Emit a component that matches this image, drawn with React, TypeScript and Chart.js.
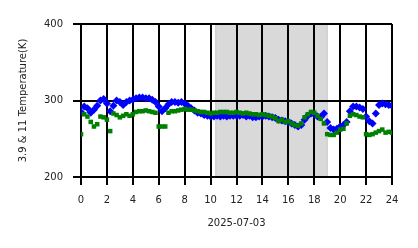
import React, { useEffect, useRef } from "react";
import { Chart, registerables } from "chart.js";

Chart.register(...registerables);

const hours: number[] = [
  0, 0.25, 0.5, 0.75, 1, 1.25, 1.5, 1.75, 2, 2.25, 2.5, 2.75, 3, 3.25, 3.5, 3.75,
  4, 4.25, 4.5, 4.75, 5, 5.25, 5.5, 5.75, 6, 6.25, 6.5, 6.75, 7, 7.25, 7.5, 7.75,
  8, 8.25, 8.5, 8.75, 9, 9.25, 9.5, 9.75, 10, 10.25, 10.5, 10.75, 11, 11.25, 11.5, 11.75,
  12, 12.25, 12.5, 12.75, 13, 13.25, 13.5, 13.75, 14, 14.25, 14.5, 14.75, 15, 15.25, 15.5, 15.75,
  16, 16.25, 16.5, 16.75, 17, 17.25, 17.5, 17.75, 18, 18.25, 18.5, 18.75, 19, 19.25, 19.5, 19.75,
  20, 20.25, 20.5, 20.75, 21, 21.25, 21.5, 21.75, 22, 22.25, 22.5, 22.75, 23, 23.25, 23.5, 23.75, 24,
];

const temp39: number[] = [
  285, 292, 290, 284, 288, 293, 300, 302, 296, 286, 293, 300, 298, 294, 298, 300,
  301, 303, 304, 304, 303, 303, 301, 298, 292, 286, 290, 295, 298, 298, 297, 298,
  296, 293, 290, 287, 284, 283, 281, 280, 279, 279, 280, 279, 280, 279, 280, 280,
  280, 280, 281, 279, 280, 278, 278, 279, 279, 280, 279, 278, 277, 275, 274, 273,
  272, 270, 268, 266, 268, 275, 280, 283, 282, 279, 278, 283, 272, 264, 262, 263,
  266, 268, 272, 286, 292, 292, 291, 289, 279, 273, 270, 283, 294, 296, 295, 294, 293,
];

const temp11: number[] = [
  256, 282, 279, 272, 266, 269, 279, 278, 275, 260, 283, 281, 278, 280, 282, 280,
  282, 285, 286, 286, 287, 286, 285, 284, 266, 266, 266, 284, 286, 286, 287, 288,
  289, 288, 288, 287, 286, 285, 285, 284, 283, 284, 284, 285, 285, 285, 284, 284,
  285, 284, 283, 284, 283, 282, 282, 281, 282, 281, 280, 279, 277, 273, 275, 272,
  273, 270, 268, 267, 270, 278, 282, 285, 284, 280, 276, 270, 256, 255, 255, 258,
  262, 263, 270, 280, 282, 281, 279, 278, 256, 255, 256, 258, 260, 262, 258, 259, 258,
];

const shadeStart = 10.4;
const shadeEnd = 19.0;
const xTicks: number[] = [0, 2, 4, 6, 8, 10, 12, 14, 16, 18, 20, 22, 24];
const yTicks: number[] = [200, 300, 400];
const dateLabel = "2025-07-03";
const yTitle = "3.9 & 11 Temperature(K)";

const FONT = "'DejaVu Sans', sans-serif";

export default function App() {
  const ref = useRef<HTMLCanvasElement | null>(null);

  useEffect(() => {
    document.body.style.margin = "0";
    const canvas = ref.current;
    if (!canvas) return;

    const shadePlugin = {
      id: "shade",
      beforeDraw(chart: any) {
        const { ctx, chartArea, scales } = chart;
        const x0 = scales.x.getPixelForValue(shadeStart);
        const x1 = scales.x.getPixelForValue(shadeEnd);
        ctx.save();
        ctx.fillStyle = "#d9d9d9";
        ctx.fillRect(x0, chartArea.top, x1 - x0, chartArea.bottom - chartArea.top);
        ctx.strokeStyle = "#c4c4c4";
        ctx.lineWidth = 1;
        ctx.strokeRect(x0, chartArea.top, x1 - x0, chartArea.bottom - chartArea.top);
        ctx.restore();
      },
    };

    const toPts = (ys: number[]) => ys.map((y, i) => ({ x: hours[i], y }));

    const chart = new Chart(canvas, {
      type: "scatter",
      data: {
        datasets: [
          {
            label: "11",
            data: toPts(temp11),
            pointStyle: "rect",
            pointRadius: 3.2,
            backgroundColor: "#008000",
            borderWidth: 0,
          },
          {
            label: "3.9",
            data: toPts(temp39),
            pointStyle: "rectRot",
            pointRadius: 4,
            backgroundColor: "#0000ff",
            borderWidth: 0,
          },
        ],
      },
      options: {
        animation: false,
        responsive: true,
        maintainAspectRatio: false,
        layout: { padding: { top: 24, right: 26, left: 0, bottom: 0 } },
        plugins: {
          legend: { display: false },
          tooltip: { enabled: false },
        },
        scales: {
          x: {
            type: "linear",
            min: 0,
            max: 24,
            afterBuildTicks: (s: any) => {
              s.ticks = xTicks.map((v) => ({ value: v }));
            },
            afterFit: (s: any) => {
              s.height = 71;
            },
            grid: {
              color: "#000",
              lineWidth: 2,
              tickLength: 8,
              tickColor: "#000",
              drawTicks: true,
            },
            border: { display: false },
            ticks: {
              color: "#222",
              font: { family: FONT, size: 10 },
              padding: 9,
              maxRotation: 0,
              autoSkip: false,
            },
            title: {
              display: true,
              text: dateLabel,
              color: "#222",
              font: { family: FONT, size: 10 },
              padding: { top: 0, bottom: 19 },
            },
          },
          y: {
            type: "linear",
            min: 200,
            max: 400,
            afterBuildTicks: (s: any) => {
              s.ticks = yTicks.map((v) => ({ value: v }));
            },
            afterFit: (s: any) => {
              s.width = 81;
            },
            grid: {
              color: "#000",
              lineWidth: 2,
              tickLength: 8,
              tickColor: "#000",
              drawTicks: true,
            },
            border: { display: false },
            ticks: {
              color: "#222",
              font: { family: FONT, size: 10 },
              padding: 10,
            },
            title: {
              display: true,
              text: yTitle,
              color: "#222",
              font: { family: FONT, size: 10 },
              padding: { top: 17, bottom: 0 },
            },
          },
        },
      },
      plugins: [shadePlugin],
    } as any);

    return () => chart.destroy();
  }, []);

  return (
    <div style={{ width: 418, height: 248, position: "relative" }}>
      <canvas ref={ref} />
    </div>
  );
}
